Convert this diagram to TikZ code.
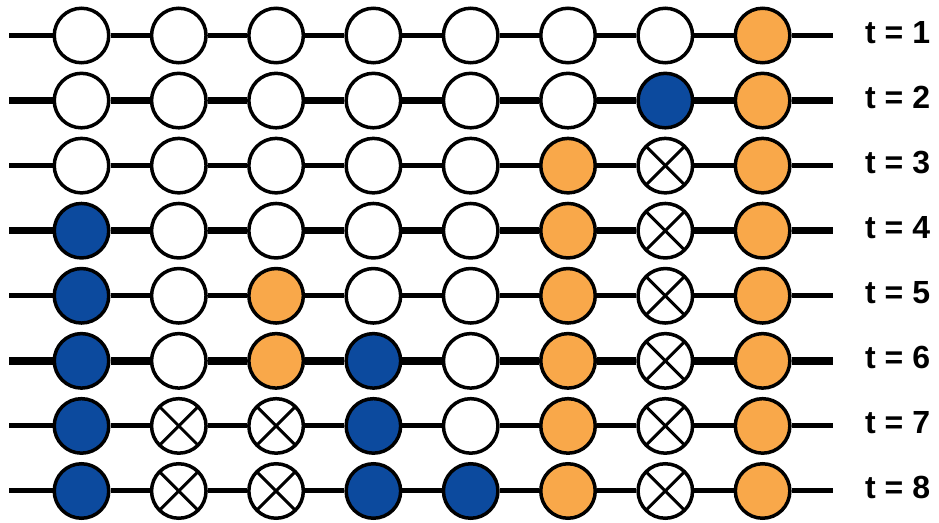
\documentclass[tikz,border=0pt]{standalone}
\usepackage{fontspec}
\setmainfont{Liberation Sans}
\definecolor{nblue}{RGB}{12,74,158}
\definecolor{norange}{RGB}{249,168,74}
\begin{document}
\begin{tikzpicture}[x=1pt,y=-1pt,
  cell/.style={circle,draw=black,line width=3.5pt,minimum size=54.5pt,inner sep=0pt,fill=white},
  W/.style={cell},
  B/.style={cell,fill=nblue},
  O/.style={cell,fill=norange},
  X/.style={cell,path picture={
      \draw[line width=3pt] (path picture bounding box.north west) -- (path picture bounding box.south east);
      \draw[line width=3pt] (path picture bounding box.north east) -- (path picture bounding box.south west);}},
  lab/.style={font=\fontsize{32}{34}\selectfont\bfseries,inner sep=0pt,anchor=base west}]
\useasboundingbox (0,0) rectangle (939,522);
\foreach \r/\s/\lw in {
  1/{W,W,W,W,W,W,W,O}/5,
  2/{W,W,W,W,W,W,B,O}/7.5,
  3/{W,W,W,W,W,O,X,O}/5,
  4/{B,W,W,W,W,O,X,O}/7.5,
  5/{B,W,O,W,W,O,X,O}/5,
  6/{B,W,O,B,W,O,X,O}/7.5,
  7/{B,X,X,B,W,O,X,O}/5,
  8/{B,X,X,B,B,O,X,O}/5}{
  \pgfmathsetmacro{\yy}{35.5+65.07*(\r-1)}
  \coordinate (s\r) at (9,\yy);
  \coordinate (e\r) at (833,\yy);
  \foreach \t [count=\c] in \s {
    \pgfmathsetmacro{\xx}{81.5+97.3*(\c-1)}
    \node[\t] (n\r-\c) at (\xx,\yy) {};
  }
  \draw[line width=\lw pt] (s\r) -- (n\r-1);
  \foreach \c [evaluate=\c as \d using int(\c+1)] in {1,...,7}{
    \draw[line width=\lw pt] (n\r-\c) -- (n\r-\d);
  }
  \draw[line width=\lw pt] (n\r-8) -- (e\r);
  \node[lab] (l\r) at (865,\yy+8) {t = \r};
}
\end{tikzpicture}
\end{document}
